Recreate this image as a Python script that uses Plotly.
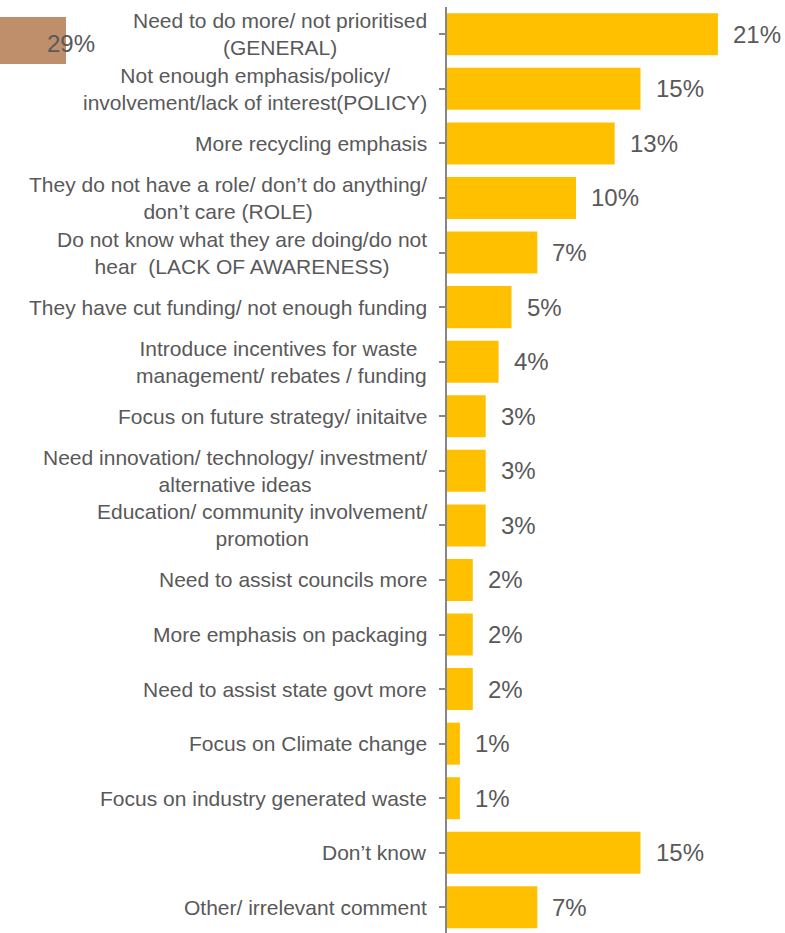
import plotly.graph_objects as go

# Responses, top to bottom
categories = [
    "Need to do more/ not prioritised<br>(GENERAL)",
    "Not enough emphasis/policy/<br>involvement/lack of interest(POLICY)",
    "More recycling emphasis",
    "They do not have a role/ don\u2019t do anything/<br>don\u2019t care (ROLE)",
    "Do not know what they are doing/do not<br>hear  (LACK OF AWARENESS)",
    "They have cut funding/ not enough funding",
    "Introduce incentives for waste\u00a0<br>management/ rebates / funding",
    "Focus on future strategy/ initaitve",
    "Need innovation/ technology/ investment/<br>alternative ideas",
    "Education/ community involvement/<br>promotion",
    "Need to assist councils more",
    "More emphasis on packaging",
    "Need to assist state govt more",
    "Focus on Climate change",
    "Focus on industry generated waste",
    "Don\u2019t know",
    "Other/ irrelevant comment",
]
values = [21, 15, 13, 10, 7, 5, 4, 3, 3, 3, 2, 2, 2, 1, 1, 15, 7]
value_labels = [f"{v}%" for v in values]

# Stray summary tag at the top left
side_tag = "29%"

W, H = 785, 933
ML, MR, MT, MB = 447, 0, 7, 0
PW, PH = W - ML - MR, H - MT - MB
PX_PER_PCT = 12.9

BAR = "#FFC000"
TXT = "#595959"
AXIS = "#868686"
FONT = "Arial, Liberation Sans, sans-serif"

ids = list(range(len(categories)))

fig = go.Figure(
    go.Bar(
        x=values,
        y=ids,
        orientation="h",
        marker=dict(color=BAR, line=dict(width=0)),
        hoverinfo="skip",
    )
)

annotations = []
for i, (c, v, lab) in enumerate(zip(categories, values, value_labels)):
    annotations.append(dict(
        x=0, xref="paper", y=i, yref="y", text=c, showarrow=False,
        xanchor="right", yanchor="middle", align="center", xshift=-18,
        font=dict(family=FONT, size=21, color=TXT),
    ))
    annotations.append(dict(
        x=v, xref="x", y=i, yref="y", text=lab, showarrow=False,
        xanchor="left", yanchor="middle", xshift=13,
        font=dict(family=FONT, size=24, color=TXT),
    ))


def px_x(p):
    return (p - ML) / PW


def px_y(p):
    return (H - MB - p) / PH


annotations.append(dict(
    x=px_x(45), xref="paper", y=px_y(43), yref="paper", text=side_tag,
    showarrow=False, xanchor="left", yanchor="middle",
    font=dict(family=FONT, size=24, color=TXT),
))

fig.update_layout(
    width=W, height=H,
    margin=dict(l=ML, r=MR, t=MT, b=MB),
    paper_bgcolor="white", plot_bgcolor="white",
    bargap=0.23,
    showlegend=False,
    xaxis=dict(range=[0, PW / PX_PER_PCT], visible=False, fixedrange=True),
    yaxis=dict(
        range=[len(categories) - 0.53, -0.5],
        tickmode="array", tickvals=ids, ticktext=[""] * len(ids),
        tickson="boundaries", ticks="outside", ticklen=6,
        tickcolor=AXIS, tickwidth=2,
        showline=True, linecolor=AXIS, linewidth=2,
        showgrid=False, zeroline=False, showticklabels=False,
        fixedrange=True,
    ),
    shapes=[dict(
        type="rect", xref="paper", yref="paper", layer="below",
        x0=px_x(0), x1=px_x(66), y0=px_y(64), y1=px_y(17),
        fillcolor="#BF8F6B", line=dict(width=0),
    )],
    annotations=annotations,
)

fig.write_html("out.html", config={"displayModeBar": False})
